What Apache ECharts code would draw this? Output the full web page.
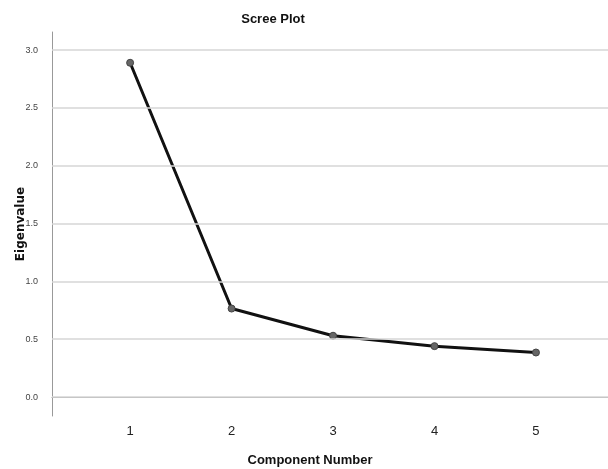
<!DOCTYPE html>
<html><head><meta charset="utf-8">
<script src="https://cdn.jsdelivr.net/npm/echarts@6/dist/echarts.min.js"></script>
<style>html,body{margin:0;padding:0;background:#fff}#c{width:608px;height:469px}</style>
</head><body><div id="c"></div>
<script>
const components = [1, 2, 3, 4, 5];
const eigenvalues = [2.89, 0.765, 0.53, 0.44, 0.385];
const yTicks = [0, 0.5, 1.0, 1.5, 2.0, 2.5, 3.0];

const chart = echarts.init(document.getElementById('c'));
const narrow = '"Liberation Sans Narrow", "Liberation Sans", Arial, sans-serif';
chart.setOption({
  animation: false,
  backgroundColor: '#fff',
  title: {
    text: 'Scree Plot', left: 268, top: 8, textAlign: 'center',
    textStyle: { fontFamily: narrow, fontSize: 13, fontWeight: 'bold', color: '#111' }
  },
  grid: { left: 52, right: 0, top: 32, bottom: 53, outerBoundsMode: 'none', containLabel: false },
  xAxis: {
    type: 'value', min: 0.23, max: 5.71,
    name: 'Component Number', nameLocation: 'middle', nameGap: 38, nameMoveOverlap: false,
    nameTextStyle: { fontFamily: narrow, fontSize: 13, fontWeight: 'bold', color: '#111', padding: [0, 40, 0, 0] },
    axisLine: { show: true, lineStyle: { color: '#999', width: 1 } },
    axisTick: { show: false },
    splitLine: { show: false },
    axisLabel: { customValues: components, formatter: v => String(v), margin: 9,
      fontFamily: narrow, fontSize: 13, color: '#222' }
  },
  yAxis: {
    type: 'value', min: -0.164, max: 3.156,
    name: 'Eigenvalue', nameLocation: 'middle', nameGap: 25, nameRotate: 90, nameMoveOverlap: false,
    nameTextStyle: { fontFamily: '"DejaVu Sans", Verdana, sans-serif', fontSize: 12, fontWeight: 'bold', color: '#111' },
    axisLine: { show: true, lineStyle: { color: '#999', width: 1 } },
    axisTick: { show: false },
    splitLine: { show: false },
    axisLabel: { customValues: yTicks, formatter: v => v.toFixed(1), margin: 14,
      fontFamily: narrow, fontSize: 9, color: '#444' }
  },
  series: [
    {
      type: 'line', silent: true, symbol: 'none',
      data: [],
      markLine: {
        symbol: 'none', silent: true, label: { show: false },
        lineStyle: { color: '#d6d6d6', width: 1.5, type: 'solid' },
        data: yTicks.map(v => ({ yAxis: v }))
      }
    },
    {
      type: 'line',
      data: components.map((c, i) => [c, eigenvalues[i]]),
      lineStyle: { color: '#111', width: 3 },
      symbol: 'circle', symbolSize: 7,
      itemStyle: { color: '#666', borderColor: '#444', borderWidth: 1 },
      z: 3
    }
  ]
});
</script>
</body></html>
